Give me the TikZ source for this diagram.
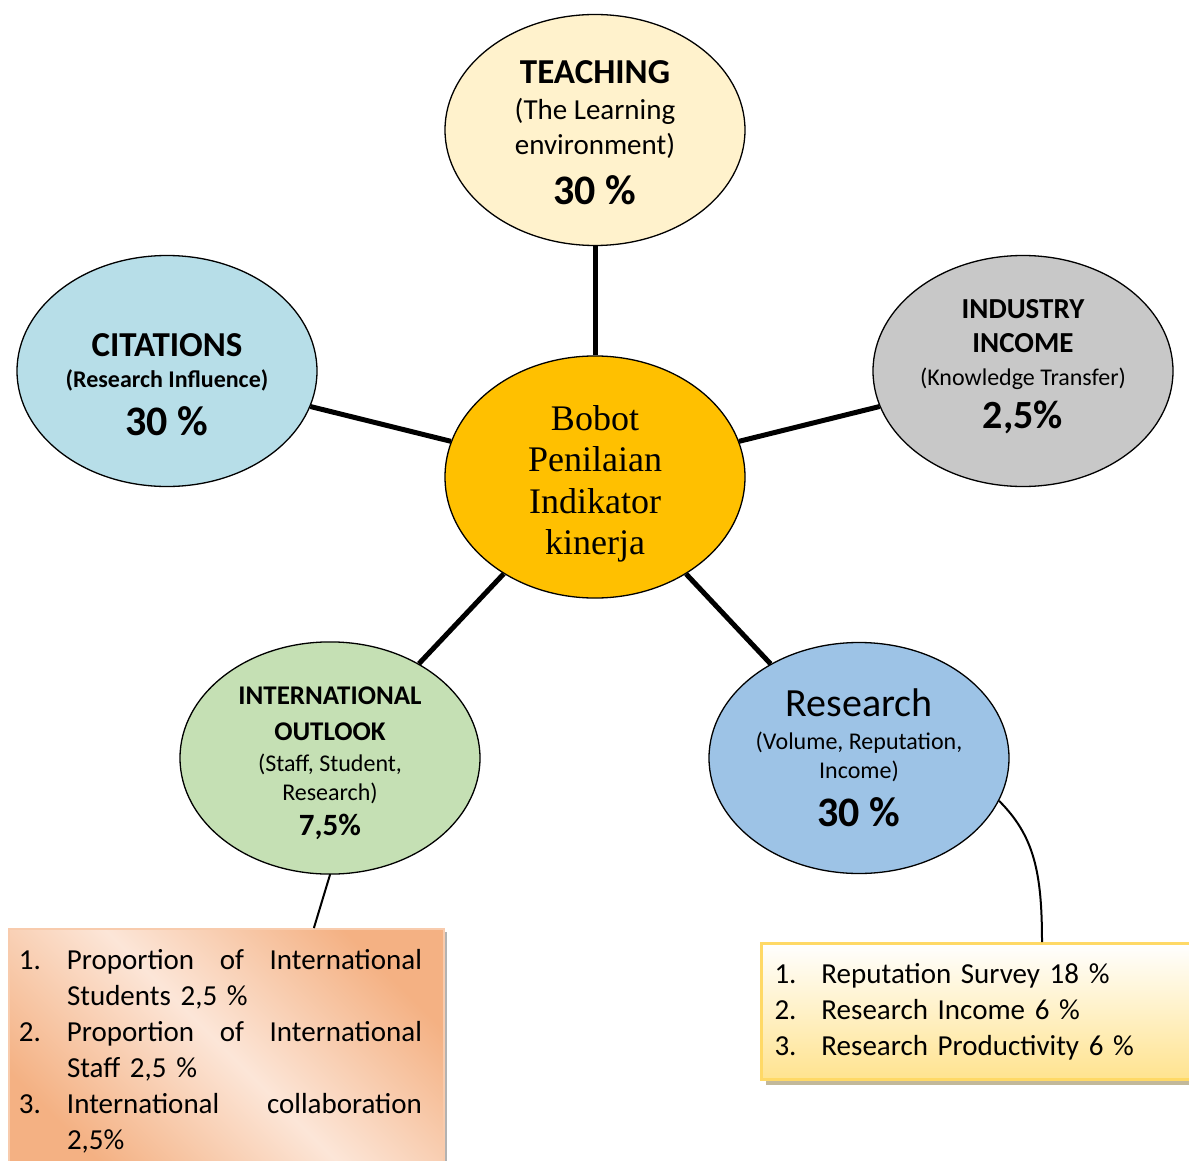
\documentclass[tikz,border=0pt]{standalone}
\usepackage{fontspec}
\setmainfont{Carlito}
\newfontfamily\timesfont{Liberation Serif}
\usetikzlibrary{shapes.geometric,shadows,calc}
\definecolor{teachfill}{HTML}{FFF2CC}
\definecolor{citefill}{HTML}{B7DEE8}
\definecolor{industryfill}{HTML}{C8C8C8}
\definecolor{centerfill}{HTML}{FFC000}
\definecolor{intlfill}{HTML}{C5E0B4}
\definecolor{researchfill}{HTML}{9DC3E6}
\definecolor{peachdark}{HTML}{F4B183}
\definecolor{peachlight}{HTML}{FCE6D8}
\definecolor{peachline}{HTML}{F8CBAD}
\definecolor{goldline}{HTML}{FFD966}
\definecolor{goldfill}{HTML}{FFE38F}
\newcommand{\itemno}[1]{\makebox[48pt][l]{#1}}
\newcommand{\fullline}[1]{\hbox to 355pt{#1}}
\begin{document}
\begin{tikzpicture}[x=1pt,y=-1pt]
\tikzstyle{every node}=[draw,inner sep=0pt,font={\fontsize{24}{29}\selectfont\lineskiplimit=-1000pt}]
\tikzstyle{blob}=[shape=ellipse,line width=1.3pt,minimum width=300pt,minimum height=231pt,align=center]
\tikzstyle{spoke}=[line width=5pt]
\tikzstyle{listbox}=[shape=rectangle,anchor=north west,align=left,font={\fontsize{29}{36}\selectfont\lineskiplimit=-1000pt}]
\useasboundingbox (0,0) rectangle (1189,1161);
\clip (0,0) rectangle (1189,1161);
\node[blob,fill=centerfill,font={\timesfont\fontsize{36}{41.5}\selectfont\lineskiplimit=-1000pt}] (center) at (595,477)
 {\rule{0pt}{39pt}Bobot\\ Penilaian\\ Indikator\\ kinerja};
\node[blob,fill=teachfill] (teach) at (595,130)
 {\rule{0pt}{28pt}{\bfseries\fontsize{35}{35}\selectfont TEACHING}\\[7pt]
  {\fontsize{29}{29}\selectfont (The Learning}\\[6pt]
  {\fontsize{29}{29}\selectfont environment)}\\[21pt]
  {\bfseries\fontsize{42}{42}\selectfont 30 \%}};
\node[blob,fill=citefill] (cite) at (167,371)
 {\rule{0pt}{51pt}{\bfseries\fontsize{35}{35}\selectfont CITATIONS}\\[2pt]
  {\bfseries (Research Influence)}\\[19pt]
  {\bfseries\fontsize{42}{42}\selectfont 30 \%}};
\node[blob,fill=industryfill] (industry) at (1023,371)
 {{\bfseries\fontsize{29}{29}\selectfont INDUSTRY}\\[5pt]
  {\bfseries\fontsize{29}{29}\selectfont INCOME}\\[4pt]
  (Knowledge Transfer)\\[14pt]
  {\bfseries\fontsize{40}{40}\selectfont 2,5\%}\rule[-15pt]{0pt}{15pt}};
\node[blob,fill=intlfill] (intl) at (330,758)
 {\rule{0pt}{29pt}{\bfseries\fontsize{27}{27}\selectfont INTERNATIONAL}\\[7pt]
  {\bfseries\fontsize{27}{27}\selectfont OUTLOOK}\\[2pt]
  (Staff, Student,\\
  Research)\\[6pt]
  {\bfseries\fontsize{31}{31}\selectfont 7,5\%}};
\node[blob,fill=researchfill] (research) at (859,758)
 {{\fontsize{40}{40}\selectfont Research}\\[4pt]
  (Volume, Reputation,\\
  Income)\\[19pt]
  {\bfseries\fontsize{42}{42}\selectfont 30 \%}};
\draw[spoke] (teach) -- (center);
\draw[spoke] (cite) -- (center);
\draw[spoke] (industry) -- (center);
\draw[spoke] (intl) -- (center);
\draw[spoke] (research) -- (center);
\node[listbox,draw=peachline,line width=2pt,shading=axis,top color=peachdark,bottom color=peachdark,middle color=peachlight,shading angle=-45,
 drop shadow={shadow xshift=3pt,shadow yshift=-3pt,fill=black!30,opacity=1},
 text width=415pt,inner xsep=10pt,inner ysep=20pt] (intlbox) at (8,928)
 {\itemno{1.}\fullline{Proportion\hfill of\hfill International}\\
  \itemno{}Students 2,5 \%\\
  \itemno{2.}\fullline{Proportion\hfill of\hfill International}\\
  \itemno{}Staff 2,5 \%\\
  \itemno{3.}\fullline{International\hfill collaboration}\\
  \itemno{}2,5\%};
\node[listbox,draw=goldline,line width=3pt,top color=white,bottom color=goldfill,
 drop shadow={shadow xshift=4pt,shadow yshift=-5pt,fill=goldfill!60!black,opacity=0.6},
 text width=440pt,inner xsep=13pt,minimum height=136pt] (resbox) at (760,942)
 {\makebox[47pt][l]{1.}Reputation Survey 18 \%\\
  \makebox[47pt][l]{2.}Research Income 6 \%\\
  \makebox[47pt][l]{3.}Research Productivity 6 \%};
\draw[line width=2pt] (intl.south) -- ($(intlbox.north west)!0.70!(intlbox.north east)$);
\draw[line width=2pt] (research.-17) .. controls +(35,35) and +(0,-70) .. ($(resbox.north west)+(282,0)$);
\end{tikzpicture}
\end{document}
